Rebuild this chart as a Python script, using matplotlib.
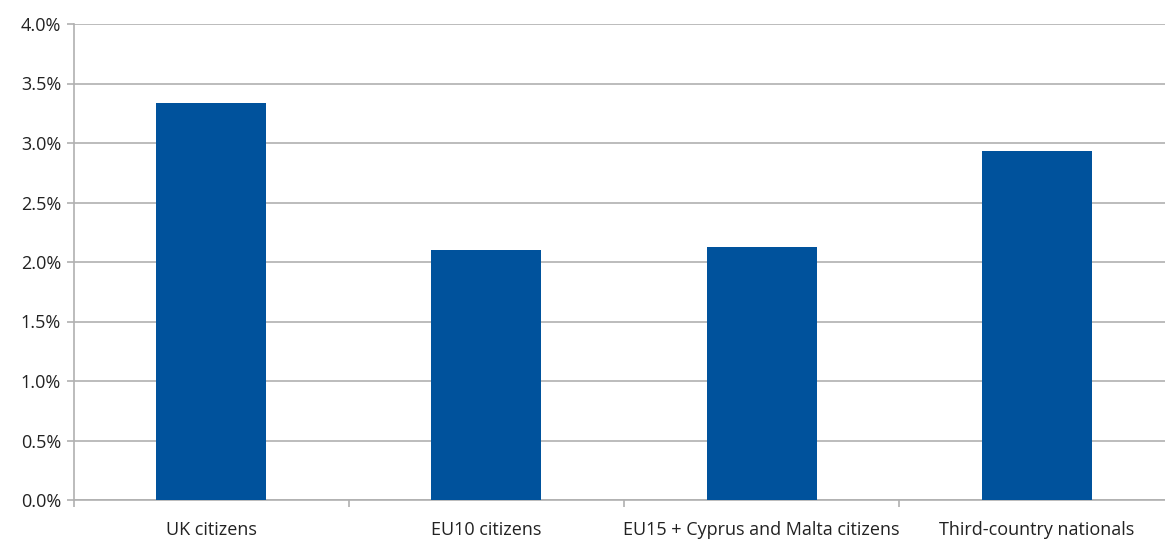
import matplotlib.pyplot as plt
from matplotlib.ticker import FuncFormatter, FixedLocator

categories = ['UK citizens', 'EU10 citizens', 'EU15 + Cyprus and Malta citizens',
              'Third-country nationals']
values = [3.34, 2.10, 2.125, 2.93]
y_ticks = [0, 0.5, 1.0, 1.5, 2.0, 2.5, 3.0, 3.5, 4.0]

bar_color = '#00529C'
grid_color = '#B0B0B0'
text_color = '#222222'

plt.rcParams['font.family'] = ['Open Sans', 'DejaVu Sans']

fig = plt.figure(figsize=(11.65, 5.39), dpi=100)
ax = fig.add_axes([73.5 / 1165, 1 - 500 / 539, 1101 / 1165, 476 / 539])

x = list(range(len(categories)))
ax.bar(x, values, width=0.4, color=bar_color, zorder=3)

ax.set_xlim(-0.5, len(categories) - 0.5)
ax.set_ylim(0, 4.0)
ax.set_yticks(y_ticks)
ax.yaxis.set_major_formatter(FuncFormatter(lambda v, p: f'{v:.1f}%'))
ax.grid(axis='y', color=grid_color, linewidth=1.2, zorder=0)

ax.set_xticks(x)
ax.set_xticklabels(categories)
ax.xaxis.set_minor_locator(FixedLocator([i - 0.5 for i in range(len(categories) + 1)]))
ax.tick_params(axis='x', which='major', length=0, pad=15, labelsize=13, labelcolor=text_color)
ax.tick_params(axis='x', which='minor', length=5, width=1.2, color=grid_color, direction='out')
ax.tick_params(axis='y', length=5, width=1.2, color=grid_color, pad=4, labelsize=13,
               labelcolor=text_color)

for s in ['top', 'right']:
    ax.spines[s].set_visible(False)
for s in ['left', 'bottom']:
    ax.spines[s].set_color(grid_color)
    ax.spines[s].set_linewidth(1.2)

fig.savefig('out.png', dpi=100)
